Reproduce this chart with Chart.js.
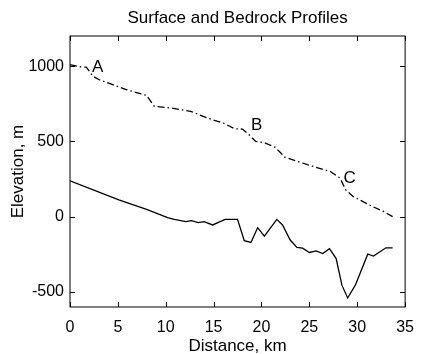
<!DOCTYPE html>
<html>
<head>
<meta charset="utf-8">
<script src="https://cdn.jsdelivr.net/npm/chart.js@4/dist/chart.umd.min.js"></script>
<style>
  html, body { margin: 0; padding: 0; background: #fff; }
  #wrap { width: 425px; height: 354px; }
</style>
</head>
<body>
<div id="wrap"><canvas id="c"></canvas></div>
<script>
// surface profile (dash-dot)
const surfaceKm   = [0, 1.0, 1.7, 2.4, 3.0, 4.4, 5.8, 8.0, 8.8, 10.5, 12.6, 14.3, 16.0, 17.2, 18.0, 18.7, 19.4, 20.4, 21.4, 22.1, 22.4, 24.8, 27.2, 28.2, 28.8, 29.6, 31.6, 32.8, 33.7];
const surfaceElev = [1010, 996, 993, 933, 911, 878, 845, 805, 733, 722, 700, 656, 622, 584, 582, 544, 500, 489, 462, 418, 396, 345, 300, 256, 178, 133, 67, 33, 0];

// bedrock profile (solid)
const bedrockKm   = [0, 5.1, 8.0, 9.2, 10.2, 10.9, 12.1, 12.7, 13.4, 14.0, 14.9, 16.2, 17.5, 18.2, 18.9, 19.6, 20.3, 21.6, 22.2, 23.0, 23.7, 24.3, 25.0, 25.7, 26.4, 27.1, 27.8, 28.4, 29.0, 29.8, 31.1, 31.7, 33.0, 33.7];
const bedrockElev = [238, 111, 49, 18, -6, -18, -33, -27, -40, -33, -55, -18, -18, -160, -171, -73, -129, -18, -55, -155, -204, -209, -238, -227, -245, -213, -278, -455, -540, -455, -249, -262, -207, -207];

const xTicks = [0, 5, 10, 15, 20, 25, 30, 35];
const yTicks = [-500, 0, 500, 1000];

const markText = ['A', 'B', 'C'];
const markKm   = [2.9, 19.5, 29.2];
const markElev = [991, 604, 258];

const TITLE = 'Surface and Bedrock Profiles';
const FONT = '"Liberation Sans", Arial, sans-serif';

function pts(xs, ys) {
    return xs.map((x, i) => ({ x: x, y: ys[i] }));
}

// MATLAB-style box with inward ticks, title over the axes, A/B/C labels
const boxPlugin = {
    id: 'box',
    afterDatasetsDraw(chart) {
        const ctx = chart.ctx;
        const a = chart.chartArea;
        const xs = chart.scales.x, ys = chart.scales.y;
        ctx.save();
        ctx.strokeStyle = '#000';
        ctx.lineWidth = 1;
        ctx.strokeRect(a.left, a.top, a.right - a.left, a.bottom - a.top);
        ctx.beginPath();
        xTicks.forEach(v => {
            const p = Math.round(xs.getPixelForValue(v)) + 0.5;
            ctx.moveTo(p, a.bottom); ctx.lineTo(p, a.bottom - 5);
            ctx.moveTo(p, a.top); ctx.lineTo(p, a.top + 5);
        });
        yTicks.forEach(v => {
            const p = Math.round(ys.getPixelForValue(v)) + 0.5;
            ctx.moveTo(a.left, p); ctx.lineTo(a.left + 5, p);
            ctx.moveTo(a.right, p); ctx.lineTo(a.right - 5, p);
        });
        ctx.stroke();

        ctx.fillStyle = '#000';
        ctx.textAlign = 'center';
        ctx.textBaseline = 'middle';
        ctx.font = '17px ' + FONT;
        ctx.fillText(TITLE, (a.left + a.right) / 2, a.top - 18);
        markText.forEach((t, i) => {
            ctx.fillText(t, xs.getPixelForValue(markKm[i]), ys.getPixelForValue(markElev[i]));
        });
        ctx.restore();
    }
};

new Chart(document.getElementById('c'), {
    type: 'line',
    data: {
        datasets: [
            {
                label: 'Surface',
                data: pts(surfaceKm, surfaceElev),
                borderColor: '#000',
                borderWidth: 1.3,
                borderDash: [7, 3, 1.5, 3],
                pointRadius: 0,
                tension: 0,
                fill: false
            },
            {
                label: 'Bedrock',
                data: pts(bedrockKm, bedrockElev),
                borderColor: '#000',
                borderWidth: 1.3,
                pointRadius: 0,
                tension: 0,
                fill: false
            }
        ]
    },
    options: {
        responsive: true,
        maintainAspectRatio: false,
        animation: false,
        layout: { padding: { left: 0, right: 12, top: 36, bottom: 0 } },
        plugins: {
            legend: { display: false },
            tooltip: { enabled: false },
            title: { display: false }
        },
        scales: {
            x: {
                type: 'linear',
                min: 0,
                max: 35,
                afterBuildTicks: s => { s.ticks = xTicks.map(v => ({ value: v })); },
                grid: { display: false, drawTicks: false },
                border: { display: false },
                ticks: { color: '#000', padding: 11, maxRotation: 0, font: { family: FONT, size: 16 } },
                title: {
                    display: true,
                    text: 'Distance, km',
                    color: '#000',
                    padding: { top: 0, bottom: -3 },
                    font: { family: FONT, size: 17 }
                },
                afterFit: s => { s.height = 47; }
            },
            y: {
                type: 'linear',
                min: -600,
                max: 1200,
                afterBuildTicks: s => { s.ticks = yTicks.map(v => ({ value: v })); },
                grid: { display: false, drawTicks: false },
                border: { display: false },
                ticks: { color: '#000', padding: 6, font: { family: FONT, size: 16 }, callback: v => String(v) },
                title: {
                    display: true,
                    text: 'Elevation, m',
                    color: '#000',
                    padding: { top: 8, bottom: 0 },
                    font: { family: FONT, size: 17 }
                },
                afterFit: s => { s.width = 70; }
            }
        }
    },
    plugins: [boxPlugin]
});
</script>
</body>
</html>
